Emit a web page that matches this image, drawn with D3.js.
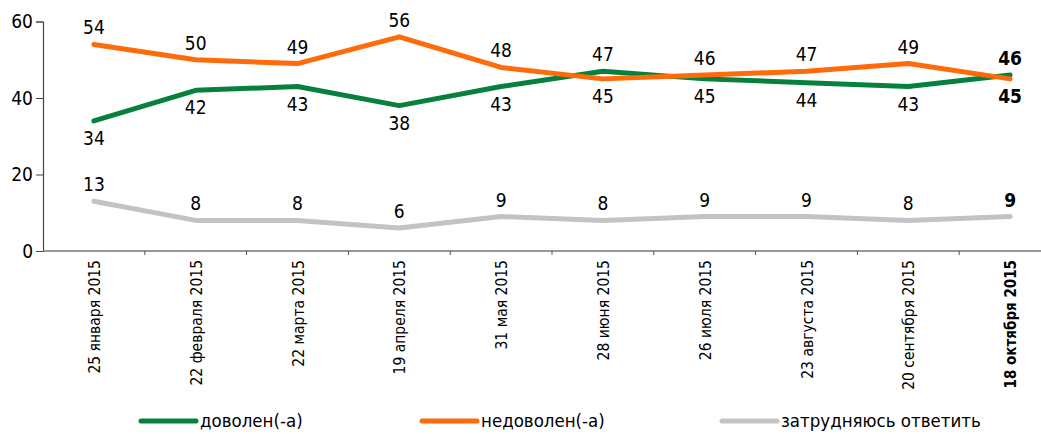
<!DOCTYPE html>
<html>
<head>
<meta charset="utf-8">
<script src="https://cdn.jsdelivr.net/npm/d3@7"></script>
<style>
  html, body { margin: 0; padding: 0; background: #fff; }
  svg { display: block; }
  text { font-family: "Liberation Sans Narrow", "DejaVu Sans Condensed", "Liberation Sans", sans-serif; fill: #000; }
</style>
</head>
<body>
<svg id="chart" width="1041" height="434"></svg>
<script>
const dates = ["25 января 2015", "22 февраля 2015", "22 марта 2015", "19 апреля 2015", "31 мая 2015",
               "28 июня 2015", "26 июля 2015", "23 августа 2015", "20 сентября 2015", "18 октября 2015"];
const satisfied   = [34, 42, 43, 38, 43, 47, 45, 44, 43, 46];
const unsatisfied = [54, 50, 49, 56, 48, 45, 46, 47, 49, 45];
const undecided   = [13, 8, 8, 6, 9, 8, 9, 9, 8, 9];
const yTicks = [0, 20, 40, 60];
const seriesNames = ["доволен(-а)", "недоволен(-а)", "затрудняюсь ответить"];
const seriesColors = ["#08803d", "#ff6a0a", "#c3c3c3"];

const svg = d3.select("#chart");
const x = d3.scaleBand().domain(dates).range([43, 1061]);
const y = d3.scaleLinear().domain([0, 60]).range([251, 21.5]);
const cx = d => x(d) + x.bandwidth() / 2;
const last = dates.length - 1;

// Y axis
const yAxis = svg.append("g").attr("transform", "translate(43,0)")
  .call(d3.axisLeft(y).tickValues(yTicks).tickSize(7).tickPadding(3).tickFormat(d3.format("d")));
yAxis.select(".domain").attr("stroke", "#444").attr("stroke-width", 1.2);
yAxis.selectAll(".tick line").attr("stroke", "#444");
yAxis.selectAll("text").style("font-size", "19px").attr("fill", "#000");

// X axis: ticks at band boundaries, rotated date labels
const xAxis = svg.append("g").attr("transform", "translate(0,251)");
xAxis.append("line").attr("x1", 43).attr("x2", 1041).attr("y1", 0).attr("y2", 0)
  .attr("stroke", "#777").attr("stroke-width", 1.5);
xAxis.selectAll("line.tk").data(dates.slice(1)).join("line").attr("class", "tk")
  .attr("x1", d => x(d)).attr("x2", d => x(d)).attr("y1", 0).attr("y2", 4)
  .attr("stroke", "#555");
xAxis.selectAll("text").data(dates).join("text")
  .attr("transform", d => `translate(${cx(d) + 6},9) rotate(-90)`)
  .attr("text-anchor", "end")
  .style("font-size", (d, i) => i === last ? "15px" : "15.5px")
  .style("font-weight", (d, i) => i === last ? "bold" : "normal")
  .text(d => d);

// Lines
const series = [satisfied, unsatisfied, undecided];
const line = d3.line().x((d, i) => cx(dates[i])).y(d => y(d));
series.forEach((vals, s) => {
  svg.append("path").datum(vals)
    .attr("d", line)
    .attr("fill", "none")
    .attr("stroke", seriesColors[s])
    .attr("stroke-width", 5)
    .attr("stroke-linejoin", "round")
    .attr("stroke-linecap", "round");
});

// Value labels: the higher of the two main series sits above its line, the lower below
function addLabels(vals, placeAbove) {
  svg.append("g").selectAll("text").data(vals).join("text")
    .attr("x", (d, i) => cx(dates[i]))
    .attr("y", (d, i) => placeAbove(i) ? y(d) - 10 : y(d) + 24)
    .attr("text-anchor", "middle")
    .style("font-size", "19px")
    .style("font-weight", (d, i) => i === last ? "bold" : "normal")
    .text(d => d);
}
addLabels(satisfied, i => satisfied[i] > unsatisfied[i]);
addLabels(unsatisfied, i => unsatisfied[i] > satisfied[i]);
addLabels(undecided, () => true);

// Legend
const legendX = [141, 422, 722];
const legend = svg.append("g");
seriesNames.forEach((name, s) => {
  legend.append("line")
    .attr("x1", legendX[s]).attr("x2", legendX[s] + 55)
    .attr("y1", 421).attr("y2", 421)
    .attr("stroke", seriesColors[s]).attr("stroke-width", 5).attr("stroke-linecap", "round");
  legend.append("text")
    .attr("x", legendX[s] + 59).attr("y", 427)
    .style("font-size", "18.5px")
    .text(name);
});
</script>
</body>
</html>
